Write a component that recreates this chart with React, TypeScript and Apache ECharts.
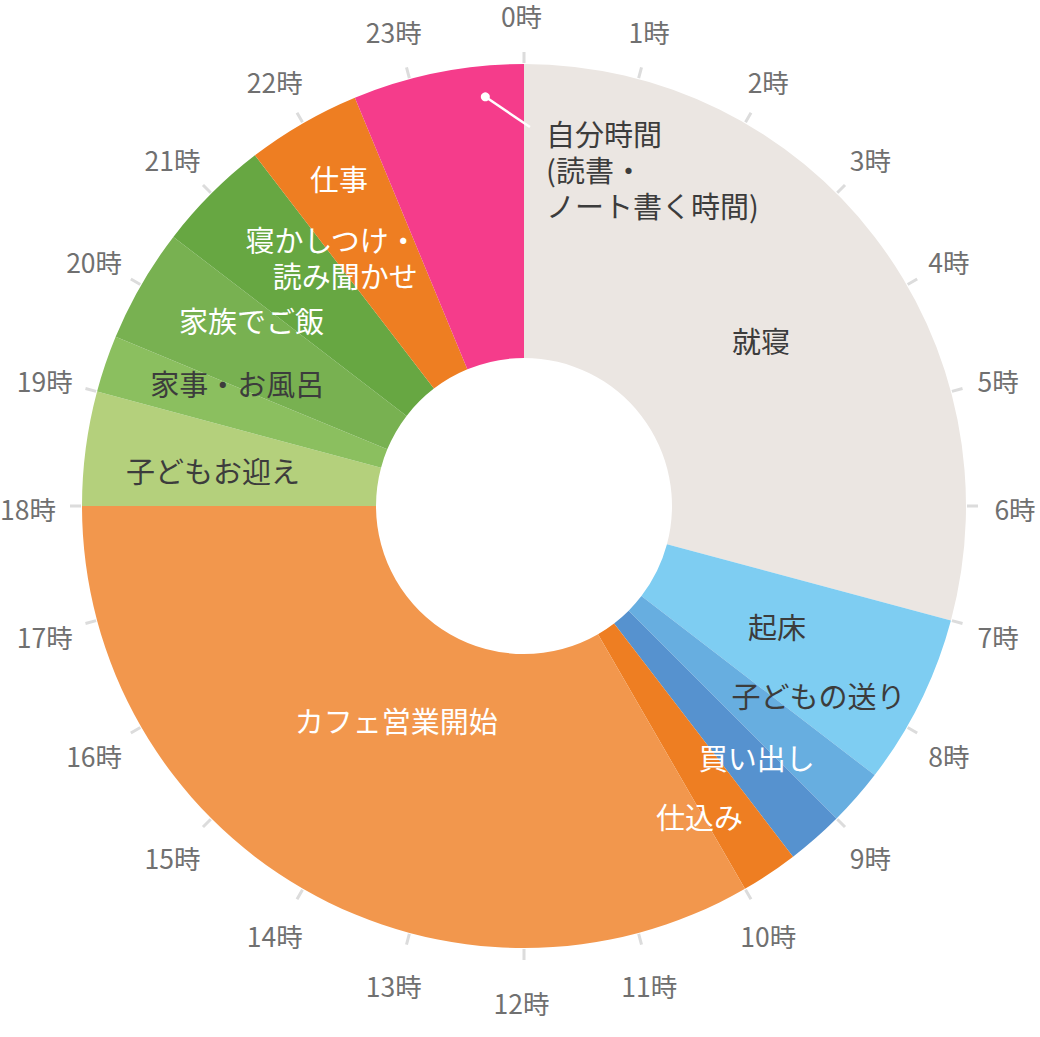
import * as echarts from "echarts";
import React, { useEffect, useRef } from "react";

// 一日の過ごし方（0時から時計回り・単位は時間）
const activityNames = [
  "就寝",
  "起床",
  "子どもの送り",
  "買い出し",
  "仕込み",
  "カフェ営業開始",
  "子どもお迎え",
  "家事・お風呂",
  "家族でご飯",
  "寝かしつけ・\n読み聞かせ",
  "仕事",
  "自分時間\n(読書・\nノート書く時間)",
];
const activityHours = [7, 1.5, 0.5, 0.5, 0.5, 8, 1, 0.5, 1, 1, 1, 1.5];
const activityColors = [
  "#EBE6E2",
  "#7ECDF2",
  "#67AEE0",
  "#5692CF",
  "#EE7E22",
  "#F2974D",
  "#B4D07C",
  "#8BBF5F",
  "#78B151",
  "#67A742",
  "#EE7E22",
  "#F53C8B",
];
const DARK = "#3C3C3C";
const LIGHT = "#FFFFFF";
const activityLabelColors = [DARK, DARK, DARK, LIGHT, LIGHT, LIGHT, DARK, DARK, LIGHT, LIGHT, LIGHT, DARK];

const clockLabels = [
  "0時", "1時", "2時", "3時", "4時", "5時", "6時", "7時", "8時", "9時", "10時", "11時",
  "12時", "13時", "14時", "15時", "16時", "17時", "18時", "19時", "20時", "21時", "22時", "23時",
];

// layout
const CX = 524;
const CY = 506;
const INNER_R = 148;
const OUTER_R = 442;

// label placement: [hour on the clock, distance from centre, align]
const labelSpots: [number, number, string][] = [
  [3.67, 289, "center"],
  [7.69, 280, "center"],
  [8.18, 350, "center"],
  [9.14, 342, "center"],
  [10.03, 356, "center"],
  [14.06, 249, "center"],
  [18.44, 313, "center"],
  [19.55, 312, "center"],
  [20.29, 330, "center"],
  [22.46, 271, "right"],
  [22.04, 377, "center"],
  [0.25, 338, "left"],
];
// leader for 自分時間: from the dot inside the slice to the text
const leaderStart: [number, number] = [23.64, 411];
const leaderEnd: [number, number] = [0.06, 379];

const polarPoint = (hour: number, r: number): number[] => {
  const a = (hour / 24) * Math.PI * 2;
  return [CX + r * Math.sin(a), CY - r * Math.cos(a)];
};

const FONT = '"Noto Sans CJK JP", "Noto Sans", sans-serif';

const DayClockChart: React.FC = () => {
  const chartRef = useRef<HTMLDivElement | null>(null);

  useEffect(() => {
    const chart = echarts.init(chartRef.current, null, { renderer: "svg" });
    const dot = polarPoint(leaderStart[0], leaderStart[1]);
    const end = polarPoint(leaderEnd[0], leaderEnd[1]);

    chart.setOption({
      animation: false,
      textStyle: { fontFamily: FONT },
      polar: { center: [CX, CY], radius: 443 },
      angleAxis: {
        type: "value",
        min: 0,
        max: 24,
        interval: 1,
        startAngle: 90,
        clockwise: true,
        axisLine: { show: false },
        axisLabel: { show: false },
        splitLine: { show: false },
        axisTick: { show: true, length: 11, lineStyle: { color: "#DCDCDC", width: 3 } },
      },
      radiusAxis: { show: false, min: 0, max: 1 },
      graphic: [
        {
          type: "line",
          z: 100,
          shape: { x1: dot[0], y1: dot[1], x2: end[0], y2: end[1] },
          style: { stroke: "#FFFFFF", lineWidth: 2.5 },
        },
        {
          type: "circle",
          z: 101,
          shape: { cx: dot[0], cy: dot[1], r: 4.5 },
          style: { fill: "#FFFFFF" },
        },
      ],
      series: [
        {
          type: "pie",
          center: [CX, CY],
          radius: [INNER_R, OUTER_R],
          startAngle: 90,
          clockwise: true,
          avoidLabelOverlap: false,
          silent: true,
          emphasis: { disabled: true },
          itemStyle: { borderWidth: 0 },
          label: {
            position: "inside",
            fontFamily: FONT,
            fontSize: 29,
            lineHeight: 36,
          },
          labelLine: { show: false },
          labelLayout: (p: any) => {
            const [h, r, align] = labelSpots[p.dataIndex];
            const [x, y] = polarPoint(h, r);
            return { x, y, align, verticalAlign: "middle" };
          },
          data: activityNames.map((name, i) => ({
            name,
            value: activityHours[i],
            itemStyle: { color: activityColors[i] },
            label: { color: activityLabelColors[i], align: labelSpots[i][2] },
          })),
        },
        {
          type: "pie",
          center: [521.5, 508.5],
          radius: [478, 503],
          startAngle: 97.5,
          clockwise: true,
          silent: true,
          avoidLabelOverlap: false,
          emphasis: { disabled: true },
          itemStyle: { color: "rgba(0,0,0,0)" },
          label: {
            position: "inside",
            color: "#707070",
            fontFamily: FONT,
            fontSize: 26.5,
          },
          labelLine: { show: false },
          data: clockLabels.map((name) => ({ name, value: 1 })),
        },
      ],
    });

    return () => {
      chart.dispose();
    };
  }, []);

  return (
    <div
      ref={chartRef}
      style={{ position: "absolute", left: 0, top: 0, width: 1040, height: 1037 }}
    ></div>
  );
};

export default function App() {
  return <DayClockChart />;
}
